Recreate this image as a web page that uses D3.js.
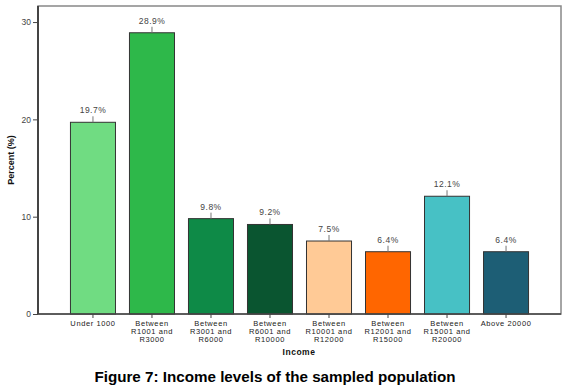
<!DOCTYPE html>
<html>
<head>
<meta charset="utf-8">
<script src="https://cdn.jsdelivr.net/npm/d3@7"></script>
<style>
  body { margin: 0; background: #fff; }
  text { font-family: "Liberation Sans", Arial, sans-serif; }
</style>
</head>
<body>
<svg id="chart" width="567" height="390"></svg>
<script>
let categories = [
  ["Under 1000"],
  ["Between", "R1001 and", "R3000"],
  ["Between", "R3001 and", "R6000"],
  ["Between", "R6001 and", "R10000"],
  ["Between", "R10001 and", "R12000"],
  ["Between", "R12001 and", "R15000"],
  ["Between", "R15001 and", "R20000"],
  ["Above 20000"]
];
let values = [19.7, 28.9, 9.8, 9.2, 7.5, 6.4, 12.1, 6.4];
let yTicks = [0, 10, 20, 30];
let colors = ["#70dc82", "#2eb84a", "#0e8a47", "#0a5530", "#ffca96", "#ff6600", "#47c1c5", "#1d5e75"];

let svg = d3.select("#chart");
let plotLeft = 38, plotRight = 561, plotTop = 6, plotBottom = 314;

let x = d3.scaleBand()
  .domain(d3.range(values.length))
  .range([plotLeft, plotRight])
  .paddingInner(0.237)
  .paddingOuter(0.55);

let y = d3.scaleLinear()
  .domain([0, 31.65])
  .range([plotBottom, plotTop]);

// plot frame
svg.append("rect")
  .attr("x", plotLeft)
  .attr("y", plotTop)
  .attr("width", plotRight - plotLeft)
  .attr("height", plotBottom - plotTop)
  .style("fill", "none")
  .style("stroke", "#888")
  .style("stroke-width", 1.5);

// bars
svg.selectAll(".bar")
  .data(values)
  .enter().append("rect")
  .attr("class", "bar")
  .attr("x", (d, i) => x(i))
  .attr("y", d => y(d))
  .attr("width", x.bandwidth())
  .attr("height", d => plotBottom - y(d))
  .style("fill", (d, i) => colors[i])
  .style("stroke", "#333")
  .style("stroke-width", 1);

// small leader lines above bars
svg.selectAll(".lead")
  .data(values)
  .enter().append("line")
  .attr("x1", (d, i) => x(i) + x.bandwidth() / 2)
  .attr("x2", (d, i) => x(i) + x.bandwidth() / 2)
  .attr("y1", d => y(d))
  .attr("y2", d => y(d) - 6)
  .style("stroke", "#777")
  .style("stroke-width", 1);

// value labels
svg.selectAll(".val")
  .data(values)
  .enter().append("text")
  .attr("x", (d, i) => x(i) + x.bandwidth() / 2)
  .attr("y", d => y(d) - 9)
  .attr("text-anchor", "middle")
  .text(d => d.toFixed(1) + "%")
  .style("font-size", "8.5px")
  .style("letter-spacing", "0.5px")
  .style("fill", "#444");

// y axis
let yAxis = svg.append("g")
  .attr("transform", "translate(" + plotLeft + ",0)")
  .call(d3.axisLeft(y).tickValues(yTicks).tickSize(5).tickPadding(2));
yAxis.select(".domain").remove();
yAxis.selectAll("line").style("stroke", "#444");
yAxis.selectAll("text").style("font-size", "8.5px").style("fill", "#444")
  .style("font-family", "'Liberation Sans', Arial, sans-serif");

svg.append("line")
  .attr("x1", plotLeft).attr("x2", plotLeft)
  .attr("y1", plotTop).attr("y2", plotBottom)
  .style("stroke", "#444").style("stroke-width", 2);

// x axis
let xAxis = svg.append("g")
  .attr("transform", "translate(0," + plotBottom + ")")
  .call(d3.axisBottom(x).tickSize(4).tickFormat(""));
xAxis.select(".domain").remove();
xAxis.selectAll("line").style("stroke", "#444");

svg.append("line")
  .attr("x1", plotLeft).attr("x2", plotRight)
  .attr("y1", plotBottom).attr("y2", plotBottom)
  .style("stroke", "#444").style("stroke-width", 1.5);

// x category labels (multi-line)
categories.forEach(function(lines, i) {
  let t = svg.append("text")
    .attr("text-anchor", "middle")
    .style("font-size", "7.5px")
    .style("letter-spacing", "0.6px")
    .style("fill", "#222");
  lines.forEach(function(line, j) {
    t.append("tspan")
      .attr("x", x(i) + x.bandwidth() / 2)
      .attr("y", plotBottom + 12 + j * 8)
      .text(line);
  });
});

// axis titles
svg.append("text")
  .attr("x", 299)
  .attr("y", 355)
  .attr("text-anchor", "middle")
  .text("Income")
  .style("font-size", "8.5px")
  .style("letter-spacing", "0.5px")
  .style("font-weight", "bold")
  .style("fill", "#111");

svg.append("text")
  .attr("transform", "translate(14," + ((plotTop + plotBottom) / 2) + ") rotate(-90)")
  .attr("text-anchor", "middle")
  .text("Percent (%)")
  .style("font-size", "9px")
  .style("font-weight", "bold")
  .style("fill", "#111");

// figure caption
svg.append("text")
  .attr("x", 275)
  .attr("y", 382)
  .attr("text-anchor", "middle")
  .text("Figure 7: Income levels of the sampled population")
  .style("font-size", "15.2px")
  .style("font-weight", "bold")
  .style("fill", "#000");
</script>
</body>
</html>
